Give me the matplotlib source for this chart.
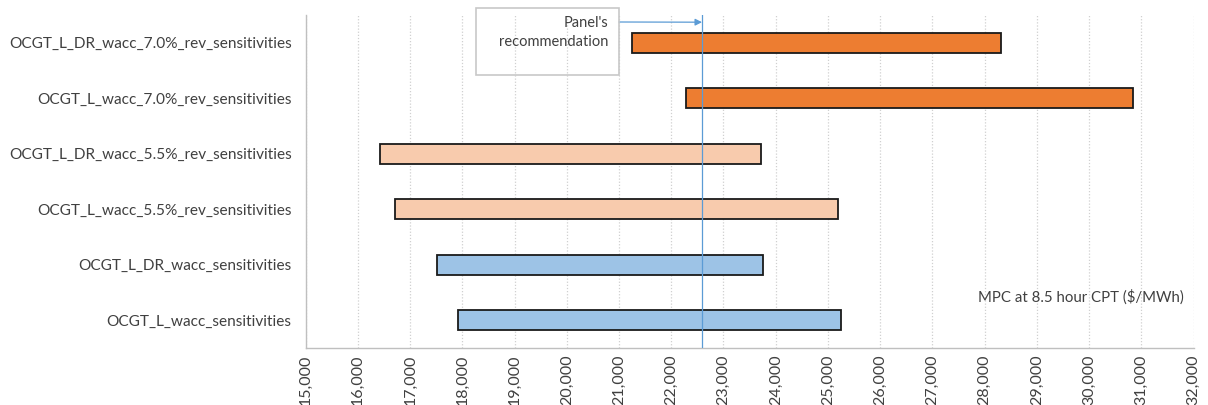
import matplotlib.pyplot as plt
import numpy as np

plt.rcParams['font.family'] = ['Lato', 'DejaVu Sans']

# Scenario ranges (MPC, $/MWh), listed bottom to top
scenarios = [
    'OCGT_L_wacc_sensitivities',
    'OCGT_L_DR_wacc_sensitivities',
    'OCGT_L_wacc_5.5%_rev_sensitivities',
    'OCGT_L_DR_wacc_5.5%_rev_sensitivities',
    'OCGT_L_wacc_7.0%_rev_sensitivities',
    'OCGT_L_DR_wacc_7.0%_rev_sensitivities',
]
low = [17910, 17520, 16710, 16420, 22280, 21250]
high = [25260, 23760, 25190, 23720, 30840, 28320]
colors = ['#9DC3E6', '#9DC3E6', '#F8CBAD', '#F8CBAD', '#ED7D31', '#ED7D31']

panel_rec = 22590
x_ticks = np.arange(15000, 32001, 1000)

fig = plt.figure(figsize=(12.08, 4.05), dpi=100)
ax = fig.add_axes([0.253, 0.141, 0.735, 0.822])

y = np.arange(len(scenarios))
widths = np.array(high) - np.array(low)
ax.barh(y, widths, left=low, height=0.36, color=colors,
        edgecolor='#1a1a1a', linewidth=1.3, zorder=3)

ax.axvline(panel_rec, color='#5B9BD5', linewidth=0.9, zorder=4)

ax.set_xlim(15000, 32000)
ax.set_ylim(-0.5, len(scenarios) - 0.5)
ax.set_xticks(x_ticks)
ax.set_xticklabels([f'{v:,}' for v in x_ticks], rotation=90, fontsize=11.5, color='#404040')
ax.set_yticks(y)
ax.set_yticklabels(scenarios, fontsize=11.1, color='#404040')
ax.tick_params(axis='y', length=0, pad=10)
ax.tick_params(axis='x', length=0, pad=5)

ax.grid(axis='x', color='#D0D0D0', linestyle=(0, (1, 1.5)), linewidth=0.9, zorder=0)
for side in ['top', 'right']:
    ax.spines[side].set_visible(False)
for side in ['left', 'bottom']:
    ax.spines[side].set_color('#BFBFBF')
    ax.spines[side].set_linewidth(1)

# annotation box for the panel's recommendation
fig.text(608 / 1208, 1 - 16 / 405, "Panel's\nrecommendation", ha='right', va='top',
         fontsize=10.5, color='#404040', linespacing=1.5)
box = plt.Rectangle((476 / 1208, 1 - 75 / 405), 143 / 1208, 67 / 405,
                    transform=fig.transFigure, fill=False, ec='#C8C8C8', lw=1.2)
fig.add_artist(box)
ax.annotate('', xy=(panel_rec, 5.37), xytext=(619 / 1208, 1 - 22 / 405),
            xycoords='data', textcoords='figure fraction',
            annotation_clip=False,
            arrowprops=dict(arrowstyle='-|>', color='#5B9BD5', lw=0.9,
                            mutation_scale=10, shrinkA=0, shrinkB=0))

ax.text(0.9886, 0.153, 'MPC at 8.5 hour CPT ($/MWh)', transform=ax.transAxes,
        ha='right', va='center', fontsize=10.8, color='#404040')

fig.savefig('out.png', dpi=100)
